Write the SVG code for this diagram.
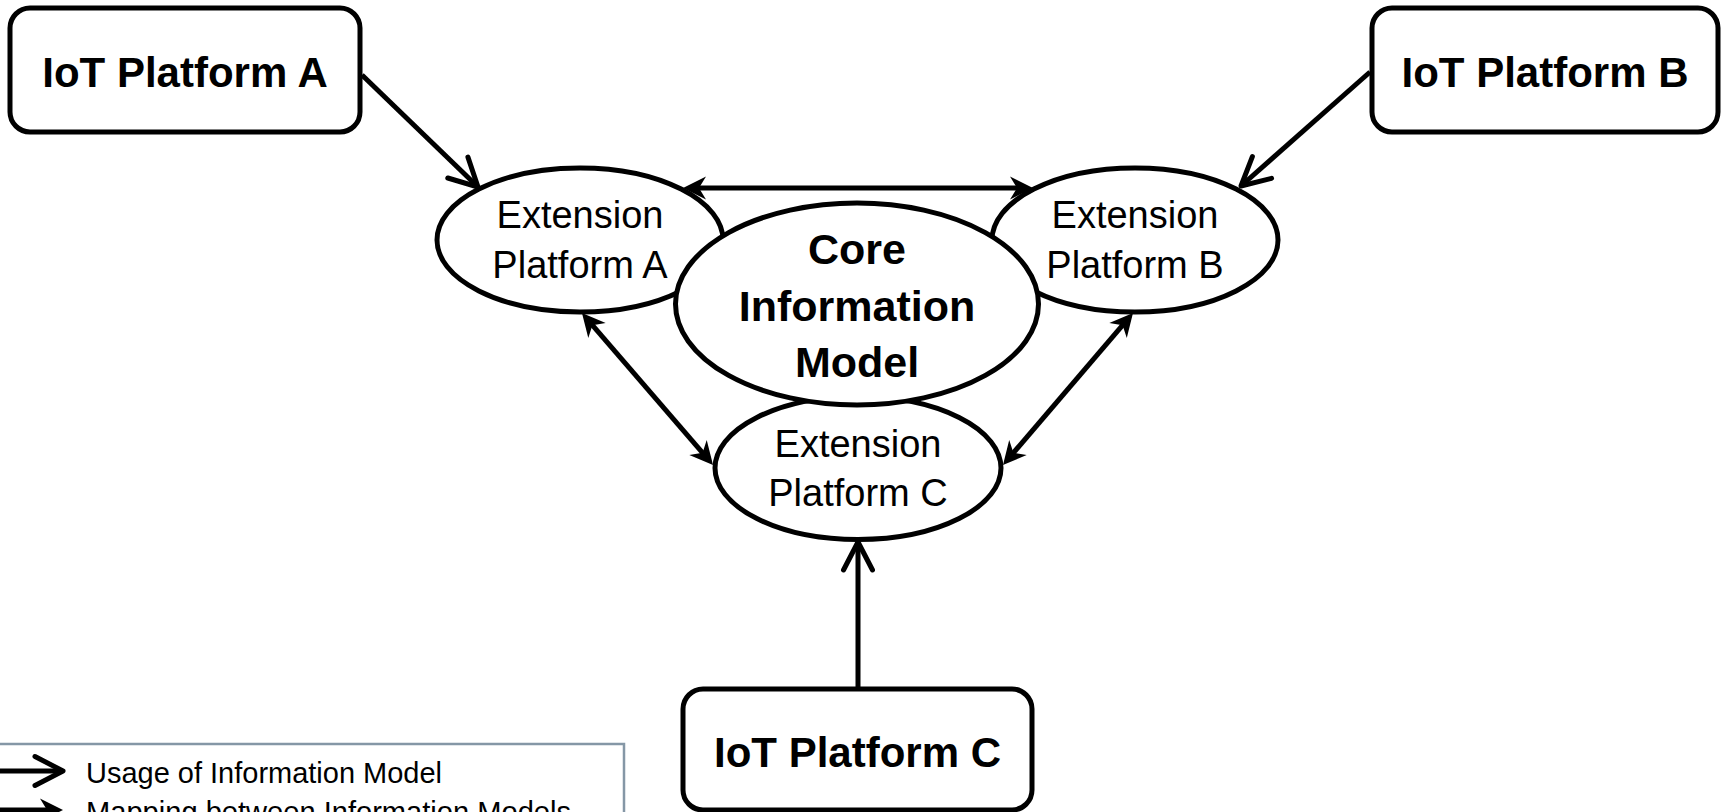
<svg xmlns="http://www.w3.org/2000/svg" width="1725" height="812" viewBox="0 0 1725 812">
  <style>
    .box { fill: #ffffff; stroke: #000000; stroke-width: 5; }
    .ell { fill: #ffffff; stroke: #000000; stroke-width: 5; }
    .title { font-family: "Liberation Sans", Arial, sans-serif; font-weight: bold; font-size: 42px; fill: #000000; text-anchor: middle; }
    .ext { font-family: "Liberation Sans", Arial, sans-serif; font-size: 38px; fill: #000000; text-anchor: middle; }
    .core { font-family: "Liberation Sans", Arial, sans-serif; font-weight: bold; font-size: 43px; fill: #000000; text-anchor: middle; }
    .use { fill: none; stroke: #000000; stroke-width: 5; marker-end: url(#usage); }
    .map { fill: none; stroke: #000000; stroke-width: 5; marker-start: url(#mapping); marker-end: url(#mapping); }
    .legend { font-family: "Liberation Sans", Arial, sans-serif; font-size: 30px; fill: #000000; }
  </style>
  <defs>
    <!-- open chevron: usage of an information model -->
    <marker id="usage" markerUnits="userSpaceOnUse" orient="auto" refX="0" refY="0" overflow="visible">
      <path d="M-28,-14.5 L0,0 L-28,14.5" fill="none" stroke="#000000" stroke-width="5" stroke-linejoin="round" stroke-linecap="round"/>
    </marker>
    <!-- filled stealth head: mapping between models (tip sits 10px past the line end) -->
    <marker id="mapping" markerUnits="userSpaceOnUse" orient="auto-start-reverse" refX="0" refY="0" overflow="visible">
      <path d="M10,0 L-13,-11.5 L-6,0 L-13,11.5 Z" fill="#000000"/>
    </marker>
  </defs>

  <rect width="1725" height="812" fill="#ffffff"/>

  <!-- extension models (drawn first, core overlaps them) -->
  <g id="ext-a">
    <ellipse class="ell" cx="580" cy="240" rx="143" ry="72"/>
  </g>
  <g id="ext-b">
    <ellipse class="ell" cx="1135" cy="240" rx="143" ry="72"/>
  </g>
  <g id="ext-c">
    <ellipse class="ell" cx="858" cy="468" rx="143" ry="71.5"/>
  </g>

  <g id="core">
    <ellipse class="ell" cx="857" cy="304" rx="181.5" ry="101"/>
    <text class="core" x="857" y="264">Core</text>
    <text class="core" x="857" y="321">Information</text>
    <text class="core" x="857" y="377">Model</text>
  </g>

  <!-- extension labels on top -->
  <g id="ext-a-label">
    <text class="ext" x="580" y="228">Extension</text>
    <text class="ext" x="580" y="278">Platform A</text>
  </g>
  <g id="ext-b-label">
    <text class="ext" x="1135" y="228">Extension</text>
    <text class="ext" x="1135" y="278">Platform B</text>
  </g>
  <g id="ext-c-label">
    <text class="ext" x="858" y="457">Extension</text>
    <text class="ext" x="858" y="506">Platform C</text>
  </g>

  <!-- platforms -->
  <g id="platform-a">
    <rect class="box" x="10" y="8" width="350" height="124" rx="20" ry="20"/>
    <text class="title" x="185" y="87">IoT Platform A</text>
  </g>
  <g id="platform-b">
    <rect class="box" x="1372" y="8" width="346" height="124" rx="20" ry="20"/>
    <text class="title" x="1545" y="87">IoT Platform B</text>
  </g>
  <g id="platform-c">
    <rect class="box" x="683" y="689" width="349" height="121" rx="20" ry="20"/>
    <text class="title" x="857.5" y="767">IoT Platform C</text>
  </g>

  <!-- connectors -->
  <g id="connectors">
    <line class="use" x1="362" y1="75" x2="478" y2="187"/>
    <line class="use" x1="1370" y1="72" x2="1241" y2="186"/>
    <line class="use" x1="858" y1="689" x2="858" y2="542"/>
    <line class="map" x1="693" y1="188" x2="1023" y2="188"/>
    <line class="map" x1="588.5" y1="320.6" x2="706.5" y2="457.4"/>
    <line class="map" x1="1126.5" y1="320.6" x2="1009.5" y2="457.4"/>
  </g>

  <!-- legend (runs past the lower edge of the canvas) -->
  <g id="legend">
    <rect x="-10" y="744" width="634" height="120" fill="#ffffff" stroke="#8597a6" stroke-width="2.5"/>
    <line class="use" x1="0" y1="771" x2="63" y2="771"/>
    <text class="legend" x="86" y="783" textLength="356" lengthAdjust="spacingAndGlyphs">Usage of Information Model</text>
    <line class="map" x1="-40" y1="810" x2="53" y2="810" style="marker-start:none"/>
    <text class="legend" x="86" y="822" textLength="485" lengthAdjust="spacingAndGlyphs">Mapping between Information Models</text>
  </g>
</svg>
